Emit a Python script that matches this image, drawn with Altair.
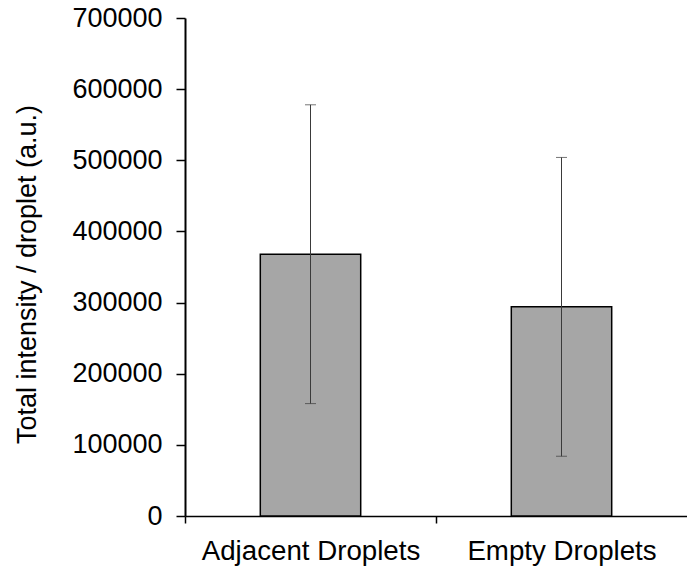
import altair as alt
import pandas as pd

categories = ["Adjacent Droplets", "Empty Droplets"]
means = [368000, 294000]
errors = [210000, 210000]
y_ticks = [0, 100000, 200000, 300000, 400000, 500000, 600000, 700000]

df = pd.DataFrame({
    "cat": categories,
    "mean": means,
    "lo": [m - e for m, e in zip(means, errors)],
    "hi": [m + e for m, e in zip(means, errors)],
})

FONT = "Liberation Sans"
Y_TITLE = "Total intensity / droplet (a.u.)"

x_scale = alt.Scale(paddingInner=0.6, paddingOuter=0.3)
y_scale = alt.Scale(domain=[0, 700000], nice=False)

# step = 502 / 2 = 251 px; ticks sit on the band boundaries
x_axis = alt.Axis(
    labelAngle=0,
    labelPadding=14,
    labelFontSize=27.7,
    ticks=True,
    tickOffset=-125.5,
    labelOffset=125.5,
    tickSize=7,
)
y_axis = alt.Axis(
    values=y_ticks,
    format="d",
    labelPadding=14,
    tickSize=9,
    domainWidth=2,
    titleAngle=-90,
    titleAlign="center",
    titleBaseline="alphabetic",
    titleX=-150,
    titleY=256,
)


def xenc():
    return alt.X("cat:N", sort=categories, title=None, scale=x_scale, axis=x_axis)


def yenc(field):
    return alt.Y(field, scale=y_scale, title=Y_TITLE, axis=y_axis)


bars = alt.Chart(df).mark_bar(
    fill="#A6A6A6", stroke="#000", strokeWidth=1.5
).encode(x=xenc(), y=yenc("mean:Q"))

rules = alt.Chart(df).mark_rule(color="#3a3a3a", strokeWidth=1).encode(
    x=xenc(), y=yenc("lo:Q"), y2="hi:Q"
)

caps_hi = alt.Chart(df).mark_tick(
    color="#3a3a3a", thickness=1, size=11, orient="horizontal"
).encode(x=xenc(), y=yenc("hi:Q"))
caps_lo = alt.Chart(df).mark_tick(
    color="#3a3a3a", thickness=1, size=11, orient="horizontal"
).encode(x=xenc(), y=yenc("lo:Q"))

chart = (
    alt.layer(bars, rules, caps_hi, caps_lo)
    .properties(
        width=502,
        height=498,
        autosize=alt.AutoSizeParams(type="none"),
        padding={"left": 185, "top": 18, "right": 0, "bottom": 53},
        background="white",
    )
    .configure_view(stroke=None)
    .configure_axis(
        grid=False,
        labelFont=FONT,
        labelFontSize=27,
        labelColor="#000",
        labelLimit=0,
        tickColor="#000",
        tickWidth=1.5,
        domainColor="#000",
        domainWidth=1.5,
        titleFont=FONT,
        titleFontSize=27,
        titleFontWeight="normal",
        titleColor="#000",
    )
)

chart.save("out.html", embed_options={"renderer": "svg", "actions": False})
